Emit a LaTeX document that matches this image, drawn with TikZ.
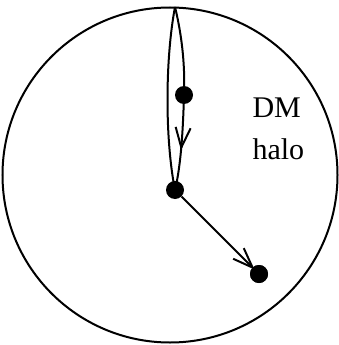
\documentclass[tikz,border=0pt]{standalone}
\usepackage{fontspec}
\setmainfont{Liberation Serif}
\usetikzlibrary{arrows.meta, decorations.markings}

\begin{document}
\begin{tikzpicture}[
    x=1pt, y=-1pt,
    orbit/.style={line width=2pt, black},
    halobox/.style={circle, draw, line width=2pt, minimum size=335pt, inner sep=0pt},
    body/.style={circle, fill=black, minimum size=18pt, inner sep=0pt},
    barb/.style={-{Straight Barb[length=20pt, width=15pt, line width=2pt]}},
    midbarb/.style={decoration={markings,
        mark=at position 0.58 with {\arrow{Straight Barb[length=20pt, width=15pt, line width=2pt]}}},
        postaction={decorate}}
]
    \useasboundingbox (0,0) rectangle (338,345);

    % DM halo
    \node[halobox] (halo) at (170,175) {};
    \node[font=\fontsize{30}{42}\selectfont, align=left, anchor=north west]
          (label) at (249,94) {DM\\halo};

    % loop through the centre
    \coordinate (top) at (175,7);
    \node[body] (sat) at (184,95) {};
    \node[body] (host) at (175,190) {};
    \node[body] (out) at (259,274) {};

    \draw[orbit] (top) .. controls (165,60) and (165,140) .. (host.center);
    \draw[orbit] (top) .. controls (183,40) and (185,70) .. (sat.center);
    \draw[orbit, midbarb] (sat.center) .. controls (183,130) and (181,165) .. (host.center);

    % escaping object
    \draw[orbit, barb, shorten >=-3pt] (host) -- (out);
    \node[body] at (out) {};
\end{tikzpicture}
\end{document}
